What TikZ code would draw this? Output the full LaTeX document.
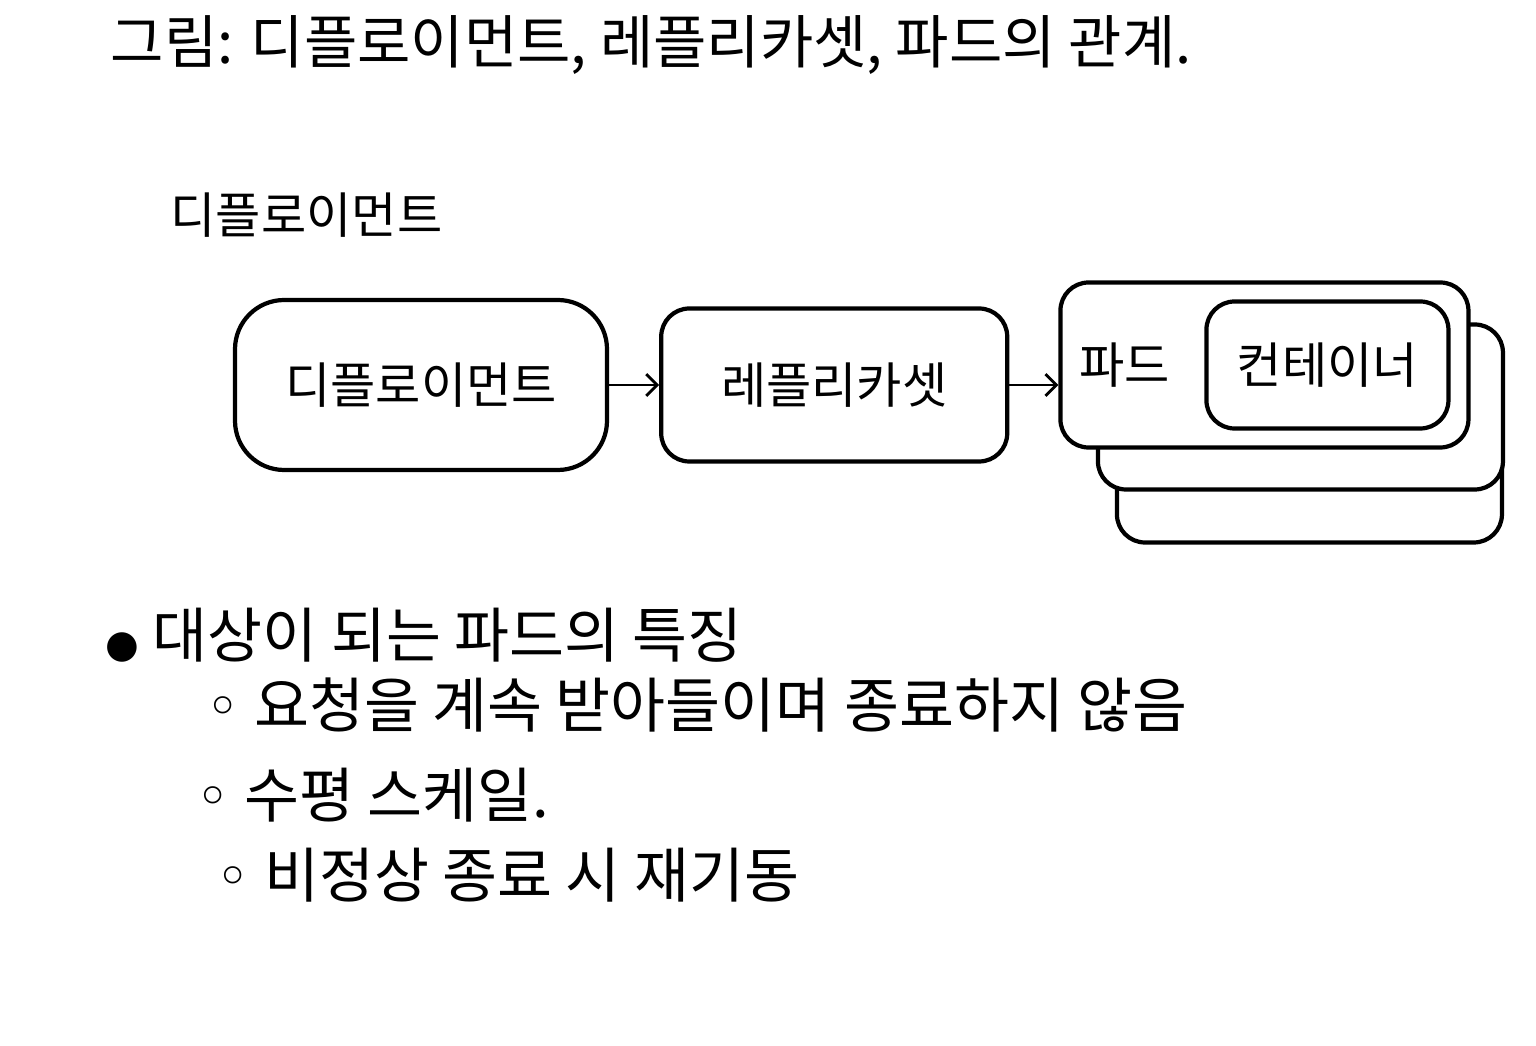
\documentclass[tikz,border=0pt]{standalone}
\usepackage{fontspec}
\setmainfont{Noto Sans CJK KR}
\newfontfamily\symfont{DejaVu Sans}
\usetikzlibrary{positioning, arrows.meta, backgrounds}

\begin{document}
\begin{tikzpicture}[
    node distance=0.5cm,
    % hand-drawn note boxes
    notebox/.style={
        rectangle,
        draw=black,
        line width=1.2pt,
        rounded corners=8pt,
        align=center,
        font=\fontsize{14}{17}\selectfont
    },
    podbox/.style={
        notebox,
        fill=white,
        minimum width=4.08cm,
        minimum height=1.65cm
    },
    notetext/.style={
        anchor=west,
        inner sep=0pt,
        font=\fontsize{17}{20}\selectfont
    }
]
    \useasboundingbox (0,0) rectangle (15.36,-10.46);

    % Title and heading
    \node[notetext, font=\fontsize{16.5}{19}\selectfont] (title) at (1.10,-0.45) {그림: 디플로이먼트, 레플리카셋, 파드의 관계.};
    \node[notetext, font=\fontsize{14}{17}\selectfont] (heading) at (1.70,-2.15) {디플로이먼트};

    % Boxes
    \node[notebox, rounded corners=14pt, minimum width=3.72cm, minimum height=1.70cm] (deploy) at (4.21,-3.85) {디플로이먼트};
    \node[notebox, minimum width=3.46cm, minimum height=1.53cm, right=0.5cm of deploy] (replica) {레플리카셋};
    \node[podbox, right=0.49cm of replica, yshift=0.2cm] (pod) {};

    % Pod copies behind
    \begin{scope}[on background layer]
        \node[podbox, minimum width=3.85cm] (podthree) at ([shift={(0.45,-0.95)}]pod.center) {};
        \node[podbox, minimum width=4.05cm] (podtwo) at ([shift={(0.36,-0.42)}]pod.center) {};
    \end{scope}

    \node[notetext, font=\fontsize{14}{17}\selectfont] (podlabel) at ([xshift=0.2cm]pod.west) {파드};
    \node[notebox, minimum width=2.42cm, minimum height=1.27cm, anchor=east] (container) at ([xshift=-0.2cm]pod.east) {컨테이너};

    % Edges
    \draw[->, >=Straight Barb, thick] (deploy) -- (replica);
    \draw[->, >=Straight Barb, thick] (replica.east) -- (replica.east -| pod.west);

    % Notes
    \node[notetext] (feature) at (1.05,-6.35) {{\symfont\fontsize{11}{13}\selectfont ●} 대상이 되는 파드의 특징};
    \node[notetext] (itemone) at (2.05,-7.05) {{\symfont ◦} 요청을 계속 받아들이며 종료하지 않음};
    \node[notetext] (itemtwo) at (1.95,-7.95) {{\symfont ◦} 수평 스케일.};
    \node[notetext] (itemthree) at (2.15,-8.75) {{\symfont ◦} 비정상 종료 시 재기동};

\end{tikzpicture}
\end{document}
